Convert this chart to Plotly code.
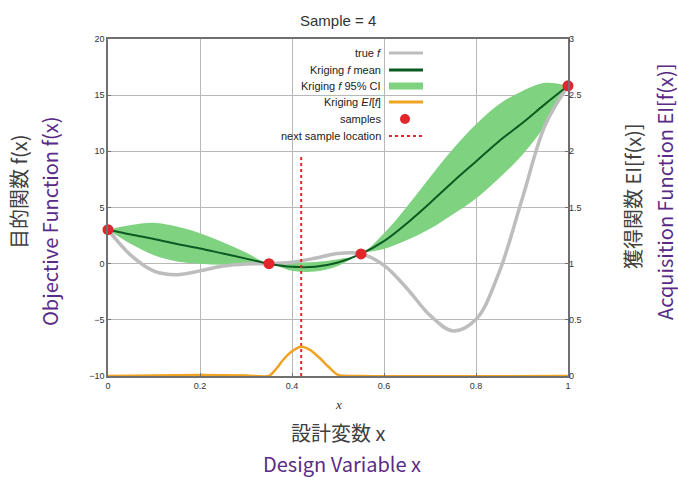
import plotly.graph_objects as go

# ---- data ----
x_grid = [0.0, 0.05, 0.1, 0.15, 0.2, 0.25, 0.3, 0.35, 0.4, 0.45, 0.5,
          0.55, 0.6, 0.65, 0.7, 0.75, 0.8, 0.85, 0.9, 0.95, 1.0]
true_f = [3.03, 0.74, -0.66, -0.98, -0.64, -0.21, -0.02, 0.0, 0.12, 0.48, 0.91,
          0.87, -0.15, -2.21, -4.6, -5.99, -4.95, -0.8, 5.71, 12.3, 15.83]
krig_mean = [3.03, 2.6, 2.2, 1.75, 1.35, 0.9, 0.45, 0.0, -0.28, -0.28, 0.1,
             0.87, 2.0, 3.6, 5.4, 7.3, 9.1, 10.9, 12.5, 14.2, 15.83]
ci_half = [0.0, 0.85, 1.45, 1.55, 1.35, 1.0, 0.55, 0.0, 0.35, 0.42, 0.3,
           0.0, 0.7, 1.5, 2.3, 2.9, 3.3, 3.3, 2.85, 1.9, 0.0]

ei_x = [0.0, 0.1, 0.2, 0.3, 0.35, 0.365, 0.38, 0.4, 0.42, 0.44, 0.46, 0.48, 0.5, 0.55, 1.0]
ei_y = [0.0, 0.004, 0.01, 0.004, 0.0, 0.06, 0.14, 0.22, 0.26, 0.23, 0.16, 0.08, 0.01, 0.0, 0.0]

sample_x = [0.0, 0.35, 0.55, 1.0]
sample_y = [3.03, 0.0, 0.87, 15.83]

next_x = [0.42, 0.42]
next_y = [-10, 9.5]

y_ticks = [-10, -5, 0, 5, 10, 15, 20]
y2_ticks = [0, 0.5, 1, 1.5, 2, 2.5, 3]
x_ticks = [0, 0.2, 0.4, 0.6, 0.8, 1]

ci_upper = [m + h for m, h in zip(krig_mean, ci_half)]
ci_lower = [m - h for m, h in zip(krig_mean, ci_half)]

GRAY = "#bdbdbd"
DKGREEN = "#0b5a22"
LTGREEN = "#7fd27f"
ORANGE = "#f0a322"
RED = "#e3262b"
PURPLE = "#5a2b86"
TXT = "#333333"

fig = go.Figure()

fig.add_trace(go.Scatter(x=x_grid, y=ci_lower, mode="lines",
                         line=dict(width=0, shape="spline"), hoverinfo="skip",
                         showlegend=False))
fig.add_trace(go.Scatter(x=x_grid, y=ci_upper, mode="lines", fill="tonexty",
                         fillcolor=LTGREEN, line=dict(width=0, shape="spline"),
                         showlegend=False))
fig.add_trace(go.Scatter(x=x_grid, y=true_f, mode="lines",
                         line=dict(color=GRAY, width=3.5, shape="spline"),
                         showlegend=False))
fig.add_trace(go.Scatter(x=x_grid, y=krig_mean, mode="lines",
                         line=dict(color=DKGREEN, width=2, shape="spline"),
                         showlegend=False))
fig.add_trace(go.Scatter(x=ei_x, y=ei_y, mode="lines", yaxis="y2",
                         line=dict(color=ORANGE, width=2.5, shape="spline", smoothing=0.6),
                         showlegend=False))
fig.add_trace(go.Scatter(x=next_x, y=next_y, mode="lines",
                         line=dict(color=RED, width=2, dash="dot"),
                         showlegend=False))
fig.add_trace(go.Scatter(x=sample_x, y=sample_y, mode="markers",
                         marker=dict(color=RED, size=11), cliponaxis=False,
                         showlegend=False))

# ---- layout geometry (body margin removed via post_script) ----
W, H = 678, 477
PL, PR, PT, PB = 108, 568, 39, 376          # plot box in screen pixels
L, R, T, B = PL, W - PR, PT, H - PB
pw, ph = PR - PL, PB - PT
def px(xs):
    return (xs - PL) / pw
def py(ys):
    return 1 - (ys - PT) / ph

# ---- manual gnuplot-style legend (text, then symbol on the right) ----
legend_items = [
    ("true <i>f</i>", dict(color=GRAY, width=3), None),
    ("Kriging <i>f</i> mean", dict(color=DKGREEN, width=3), None),
    ("Kriging <i>f</i> 95% CI", dict(color=LTGREEN, width=7), None),
    ("Kriging <i>EI</i>[<i>f</i>]", dict(color=ORANGE, width=3), None),
    ("samples", None, "marker"),
    ("next sample location", dict(color=RED, width=2, dash="dot"), None),
]
rows = [53, 70, 86, 102, 119, 136]
shapes = []
annotations = []
for (text, ln, kind), ys in zip(legend_items, rows):
    annotations.append(dict(x=px(383), y=py(ys), xref="paper", yref="paper",
                            text=text, showarrow=False, xanchor="right",
                            yanchor="middle",
                            font=dict(family="Liberation Sans, Arial", size=11, color="#222")))
    if kind == "marker":
        shapes.append(dict(type="circle", xref="paper", yref="paper",
                           x0=px(400), x1=px(410), y0=py(ys - 5), y1=py(ys + 5),
                           fillcolor=RED, line=dict(width=0)))
    else:
        shapes.append(dict(type="line", xref="paper", yref="paper",
                           x0=px(389), x1=px(423), y0=py(ys), y1=py(ys), line=ln))

def label(text, xs, ys, size, color, family, angle=0):
    return dict(text=text, x=px(xs), y=py(ys), xref="paper", yref="paper",
                xanchor="center", yanchor="middle", showarrow=False,
                textangle=angle, font=dict(family=family, size=size, color=color))

annotations += [
    label("Sample = 4", 338, 21, 15, TXT, "Liberation Sans, Arial"),
    label("<i>x</i>", 338, 404, 13, TXT, "Liberation Serif, serif"),
    label("設計変数 x", 338, 432, 20, "#404040", "Noto Sans CJK JP"),
    label("Design Variable x", 342, 464, 20, PURPLE, "Noto Sans CJK JP"),
    label("目的関数 f(x)", 18, 192, 20, "#404040", "Noto Sans CJK JP", -90),
    label("Objective Function f(x)", 49, 221, 20, PURPLE, "Noto Sans CJK JP", -90),
    label("獲得関数 EI[f(x)]", 632, 196, 20, "#404040", "Noto Sans CJK JP", -90),
    label("Acquisition Function EI[f(x)]", 664, 192, 20, PURPLE, "Noto Sans CJK JP", -90),
]

tickfont = dict(family="Liberation Sans, Arial", size=9, color=TXT)
fig.update_layout(
    width=W, height=H,
    margin=dict(l=L, r=R, t=T, b=B),
    paper_bgcolor="white", plot_bgcolor="white",
    showlegend=False,
    xaxis=dict(range=[0, 1], tickvals=x_ticks, ticktext=[str(v) for v in x_ticks],
               showgrid=True, gridcolor="#b8b8b8", gridwidth=1,
               showline=True, linecolor="#707070", linewidth=1.5, mirror=True,
               ticks="inside", ticklen=3, tickcolor="#707070", tickfont=tickfont,
               zeroline=False),
    yaxis=dict(range=[-10, 20], tickvals=y_ticks, showgrid=True, gridcolor="#b8b8b8",
               showline=True, linecolor="#707070", linewidth=1.5, mirror=True,
               ticks="inside", ticklen=3, tickcolor="#707070", tickfont=tickfont,
               zeroline=False),
    yaxis2=dict(range=[0, 3], tickvals=y2_ticks, overlaying="y", side="right",
                showgrid=False, ticks="inside", ticklen=3, tickcolor="#707070",
                tickfont=tickfont, zeroline=False, showline=False),
    shapes=shapes,
    annotations=annotations,
)

fig.write_html(
    "out.html",
    config={"displayModeBar": False},
    post_script="document.body.style.margin='0px';document.body.style.overflow='hidden';",
)
